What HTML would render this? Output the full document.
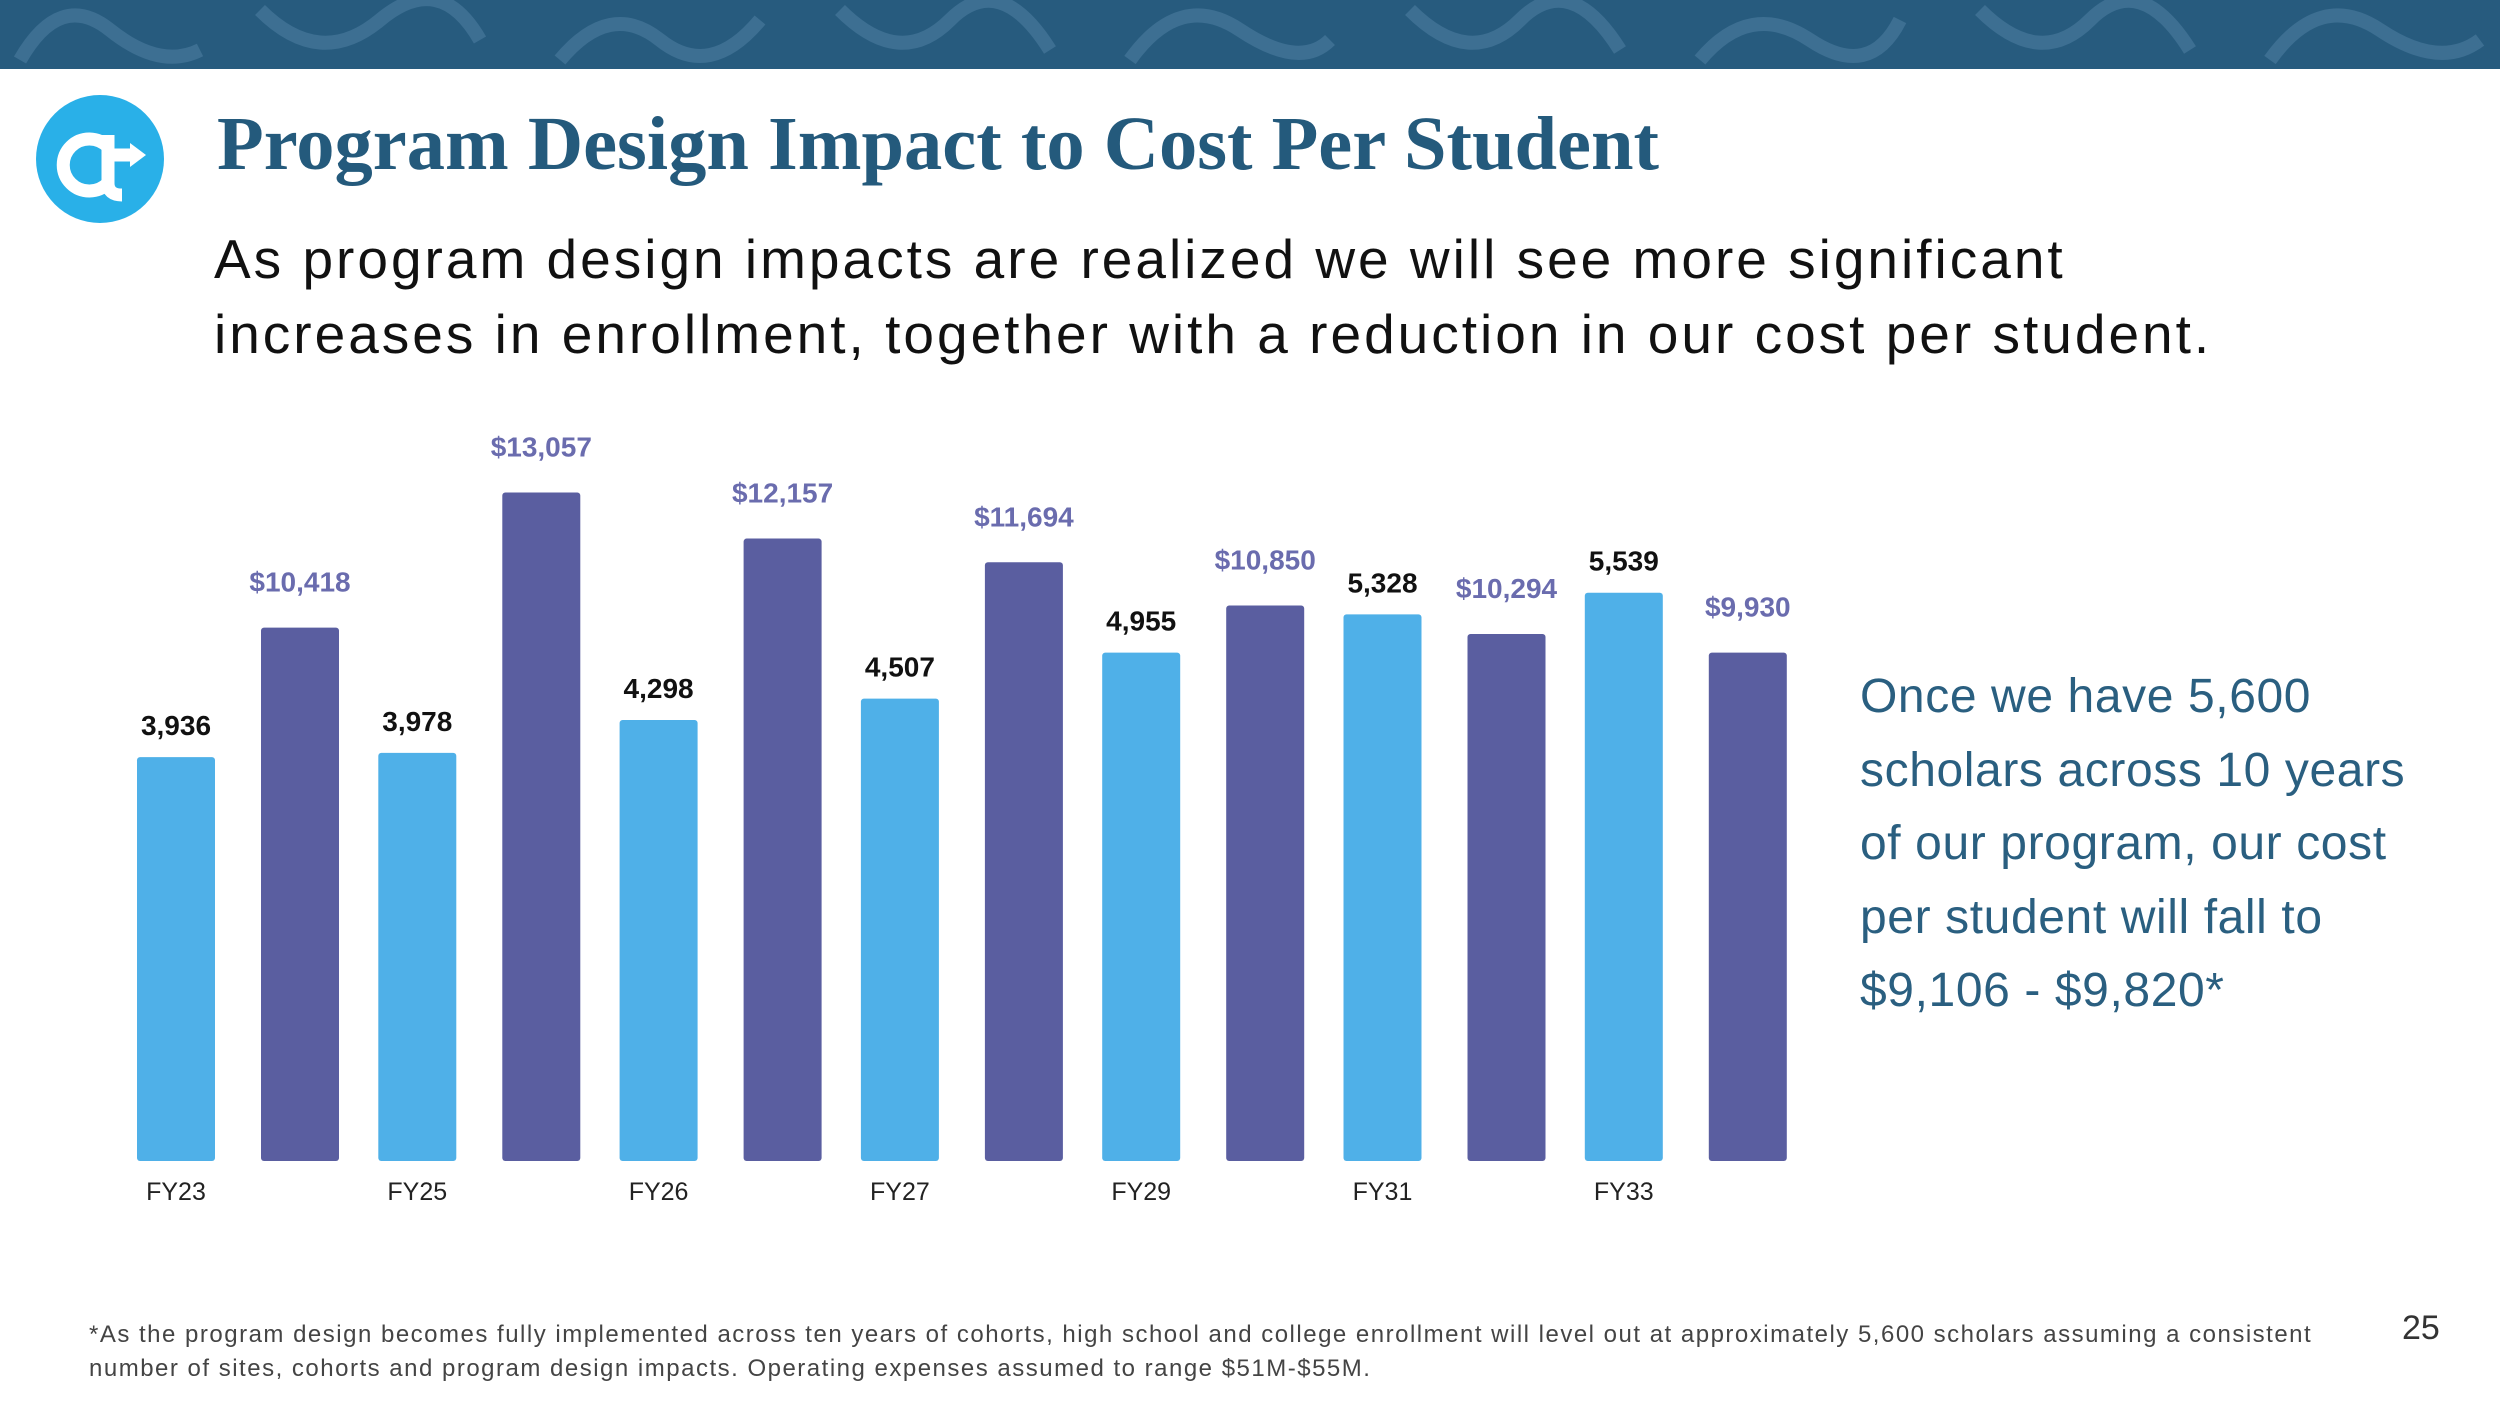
<!DOCTYPE html>
<html><head><meta charset="utf-8">
<style>
html,body{margin:0;padding:0;background:#fff;}
body{width:2500px;height:1406px;position:relative;overflow:hidden;font-family:"Liberation Sans",sans-serif;}
.abs{position:absolute;}
</style></head>
<body>
<div class="abs" style="left:0;top:0;width:2500px;height:69px;background:#275b7e;overflow:hidden">
<svg width="2500" height="69">
<g fill="none" stroke="#3d6f92" stroke-width="14">
<path d="M20 60 Q60 -10 110 30 T200 50"/><path d="M260 10 Q320 70 380 20 T480 40"/><path d="M560 60 Q610 0 660 40 T760 20"/>
<path d="M840 10 Q900 70 950 20 T1050 50"/><path d="M1130 60 Q1180 -10 1240 30 T1330 40"/><path d="M1410 10 Q1470 70 1520 20 T1620 50"/>
<path d="M1700 60 Q1750 0 1810 40 T1900 20"/><path d="M1980 10 Q2040 70 2090 20 T2190 50"/><path d="M2270 60 Q2320 -10 2380 30 T2480 40"/>
</g></svg>
</div>
<svg class="abs" style="left:36px;top:95px" width="128" height="128">
<circle cx="64" cy="64" r="64" fill="#29b0e8"/>
<path d="M72 52 A26 26 0 1 0 72 88 L72 40 M72 60 L100 60 M72 88 Q72 100 86 100" fill="none" stroke="#fff" stroke-width="13"/>
<path d="M94 48 L110 60 L94 72 Z" fill="#fff"/>
</svg>
<div class="abs" style="left:217px;top:100px;font-family:'Liberation Serif',serif;font-weight:bold;font-size:76.5px;color:#245a7c;white-space:nowrap">Program Design Impact to Cost Per Student</div>
<div class="abs" style="left:214px;top:222px;font-size:55px;letter-spacing:3px;line-height:75px;color:#111;white-space:nowrap">As program design impacts are realized we will see more significant<br>increases in enrollment, together with a reduction in our cost per student.</div>

<svg class="abs" style="left:0;top:0" width="2500" height="1406" id="chart"></svg>

<div class="abs" style="left:1860px;top:660px;font-size:48px;letter-spacing:0.6px;line-height:73.5px;color:#2a5f80;white-space:nowrap">Once we have 5,600<br>scholars across 10 years<br>of our program, our cost<br>per student will fall to<br>$9,106 - $9,820*</div>
<div class="abs" style="left:89px;top:1318px;font-size:24px;letter-spacing:1.5px;line-height:34px;color:#444;white-space:nowrap">*As the program design becomes fully implemented across ten years of cohorts, high school and college enrollment will level out at approximately 5,600 scholars assuming a consistent<br>number of sites, cohorts and program design impacts. Operating expenses assumed to range $51M-$55M.</div>
<div class="abs" style="left:2402px;top:1309px;font-size:34px;color:#333">25</div>

<script>
const categories = ["FY23","FY25","FY26","FY27","FY29","FY31","FY33"];
const enrollment = [3936,3978,4298,4507,4955,5328,5539];
const costPerStudent = [10418,13057,12157,11694,10850,10294,9930];
const enrollmentLabels = ["3,936","3,978","4,298","4,507","4,955","5,328","5,539"];
const costLabels = ["$10,418","$13,057","$12,157","$11,694","$10,850","$10,294","$9,930"];

const svg = document.getElementById('chart');
const NS = 'http://www.w3.org/2000/svg';
const baseY = 1161, barW = 78, x0 = 137, step = 241.3, purpleOff = 124;
const yEnroll = v => baseY - v * 0.1026;
const yCost = v => baseY - v * 0.0512;
function mk(tag, attrs, txt){const e=document.createElementNS(NS,tag);for(const k in attrs)e.setAttribute(k,attrs[k]);if(txt!==undefined)e.textContent=txt;svg.appendChild(e);return e;}
categories.forEach((c,i)=>{
  const xl = x0 + i*step, xp = xl + purpleOff;
  const te = yEnroll(enrollment[i]);
  let r = mk('rect',{x:xl,y:te,width:barW,height:baseY-te,rx:3,fill:'#4fb0e8'});
  
  
  let t = mk('text',{x:xl+barW/2,y:te-22,'text-anchor':'middle','font-size':28,'font-weight':'bold',fill:'#111'},enrollmentLabels[i]);
  
  
  const tc = yCost(costPerStudent[i]);
  let r2 = mk('rect',{x:xp,y:tc,width:barW,height:baseY-tc,rx:3,fill:'#5a5ea0'});
  
  
  let t2 = mk('text',{x:xp+barW/2,y:tc-36,'text-anchor':'middle','font-size':28,'font-weight':'bold',fill:'#6a6cae'},costLabels[i]);
  
  
  let a = mk('text',{x:xl+barW/2,y:1200,'text-anchor':'middle','font-size':25,fill:'#222'},c);
  
  
});
</script>
</body></html>
